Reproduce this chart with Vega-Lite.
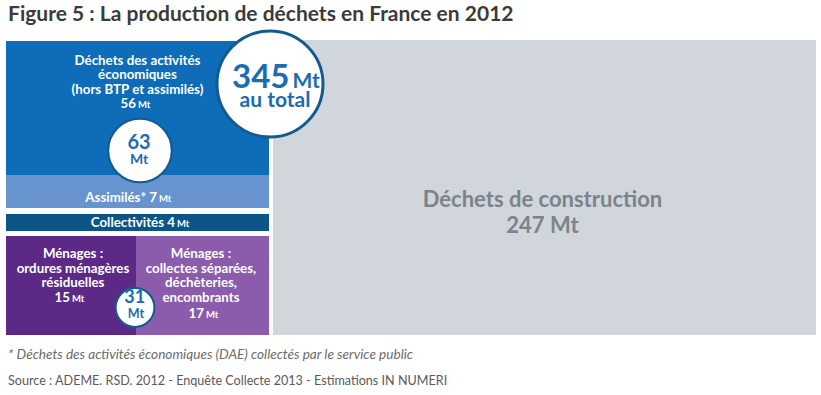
{
  "$schema": "https://vega.github.io/schema/vega-lite/v6.json",
  "width": 810,
  "height": 295,
  "autosize": {"type": "none"},
  "padding": {"left": 6, "top": 40, "right": 5, "bottom": 60},
  "background": "white",
  "config": {"view": {"stroke": null}, "text": {"font": "Lato"}},
  "datasets": {
    "boxes": [
      {"name": "Déchets des activités économiques", "mt": 56, "x0": 0, "x1": 32.47, "y0": 0.34, "y1": 45.76},
      {"name": "Assimilés", "mt": 7, "x0": 0, "x1": 32.47, "y0": 45.76, "y1": 56.95},
      {"name": "Collectivités", "mt": 4, "x0": 0, "x1": 32.47, "y0": 58.98, "y1": 64.75},
      {"name": "Ménages : ordures ménagères résiduelles", "mt": 15, "x0": 0, "x1": 16.05, "y0": 66.44, "y1": 100},
      {"name": "Ménages : collectes séparées", "mt": 17, "x0": 16.05, "x1": 32.47, "y0": 66.44, "y1": 100},
      {"name": "Déchets de construction", "mt": 247, "x0": 32.96, "x1": 100, "y0": 0, "y1": 100}
    ],
    "circles": [
      {"label": "345 Mt au total", "total": 345, "cx": 32.59, "cy": 14.92},
      {"label": "63 Mt", "total": 63, "cx": 16.54, "cy": 37.46},
      {"label": "31 Mt", "total": 31, "cx": 15.93, "cy": 90.68}
    ],
    "texts": [
      {"role": "title", "text": "Figure 5 : La production de déchets en France en 2012", "x": 0.25, "y": -6.44},
      {"role": "note", "text": "* Déchets des activités économiques (DAE) collectés par le service public", "x": 0.25, "y": 108.14},
      {"role": "source", "text": "Source : ADEME. RSD. 2012 - Enquête Collecte 2013 - Estimations IN NUMERI", "x": 0.25, "y": 116.9},
      {"role": "wname", "text": "Déchets des activités\néconomiques\n(hors BTP et assimilés)", "x": 16.23, "y": 8.47},
      {"role": "wname", "text": "Ménages :\nordures ménagères\nrésiduelles", "x": 8.27, "y": 73.9},
      {"role": "wname", "text": "Ménages :\ncollectes séparées,\ndéchèteries,\nencombrants", "x": 24.07, "y": 73.9},
      {"role": "wnum", "text": "56", "x": 16.05, "y": 23.05},
      {"role": "wnum", "text": "Assimilés* 7", "x": 18.64, "y": 54.92},
      {"role": "wnum", "text": "Collectivités 4", "x": 20.86, "y": 63.39},
      {"role": "wnum", "text": "15", "x": 7.9, "y": 88.81},
      {"role": "wnum", "text": "17", "x": 24.44, "y": 94.24},
      {"role": "gray", "text": "Déchets de construction\n247 Mt", "x": 66.23, "y": 56.51},
      {"role": "bignum", "text": "345", "x": 35.0, "y": 16.27},
      {"role": "total", "text": "au total", "x": 33.21, "y": 22.71},
      {"role": "cnumL", "text": "63", "x": 16.42, "y": 36.95},
      {"role": "cunitL", "text": "Mt", "x": 16.42, "y": 41.9},
      {"role": "cnumS", "text": "31", "x": 15.9, "y": 89.15},
      {"role": "cunitS", "text": "Mt", "x": 16.05, "y": 94.1}
    ]
  },
  "layer": [
    {
      "data": {"name": "boxes"},
      "mark": {"type": "rect", "opacity": 1},
      "encoding": {
        "x": {"field": "x0", "type": "quantitative", "scale": {"domain": [0, 100]}, "axis": null},
        "x2": {"field": "x1"},
        "y": {"field": "y0", "type": "quantitative", "scale": {"domain": [0, 100], "reverse": true}, "axis": null},
        "y2": {"field": "y1"},
        "color": {
          "field": "name", "type": "nominal", "legend": null,
          "scale": {
            "domain": ["Déchets des activités économiques", "Assimilés", "Collectivités", "Ménages : ordures ménagères résiduelles", "Ménages : collectes séparées", "Déchets de construction"],
            "range": ["#0e6cb8", "#6794cf", "#0b5587", "#5c2a86", "#8a5cab", "#d0d6dc"]
          }
        }
      }
    },
    {
      "data": {"name": "circles"},
      "mark": {"type": "point", "shape": "circle", "filled": true, "fill": "white", "stroke": "#115b8f", "opacity": 1, "fillOpacity": 1, "strokeOpacity": 1},
      "encoding": {
        "x": {"field": "cx", "type": "quantitative", "scale": {"domain": [0, 100]}, "axis": null},
        "y": {"field": "cy", "type": "quantitative", "scale": {"domain": [0, 100], "reverse": true}, "axis": null},
        "size": {"field": "total", "type": "quantitative", "legend": null, "scale": {"type": "linear", "domain": [31, 63, 345], "range": [1505, 4045, 11236]}},
        "strokeWidth": {"field": "total", "type": "quantitative", "legend": null, "scale": {"domain": [31, 345], "range": [2, 3]}}
      }
    },
    {
      "data": {"name": "texts"},
      "transform": [{"filter": "datum.role === 'title'"}],
      "mark": {"type": "text", "align": "left", "baseline": "alphabetic", "fontSize": 21, "fontWeight": "bold", "color": "#3b3b3b"},
      "encoding": {
        "x": {"field": "x", "type": "quantitative", "scale": {"domain": [0, 100]}, "axis": null},
        "y": {"field": "y", "type": "quantitative", "scale": {"domain": [0, 100], "reverse": true}, "axis": null},
        "text": {"field": "text"}
      }
    },
    {
      "data": {"name": "texts"},
      "transform": [{"filter": "datum.role === 'note'"}],
      "mark": {"type": "text", "align": "left", "baseline": "alphabetic", "fontSize": 13.6, "fontStyle": "italic", "color": "#6b6b6b"},
      "encoding": {
        "x": {"field": "x", "type": "quantitative", "scale": {"domain": [0, 100]}, "axis": null},
        "y": {"field": "y", "type": "quantitative", "scale": {"domain": [0, 100], "reverse": true}, "axis": null},
        "text": {"field": "text"}
      }
    },
    {
      "data": {"name": "texts"},
      "transform": [{"filter": "datum.role === 'source'"}],
      "mark": {"type": "text", "align": "left", "baseline": "alphabetic", "fontSize": 12.6, "color": "#5a5a5a"},
      "encoding": {
        "x": {"field": "x", "type": "quantitative", "scale": {"domain": [0, 100]}, "axis": null},
        "y": {"field": "y", "type": "quantitative", "scale": {"domain": [0, 100], "reverse": true}, "axis": null},
        "text": {"field": "text"}
      }
    },
    {
      "data": {"name": "texts"},
      "transform": [{"filter": "datum.role === 'wname'"}],
      "mark": {"type": "text", "align": "center", "baseline": "alphabetic", "fontSize": 13.3, "fontWeight": "bold", "color": "white", "lineBreak": "\n", "lineHeight": 14.5},
      "encoding": {
        "x": {"field": "x", "type": "quantitative", "scale": {"domain": [0, 100]}, "axis": null},
        "y": {"field": "y", "type": "quantitative", "scale": {"domain": [0, 100], "reverse": true}, "axis": null},
        "text": {"field": "text"}
      }
    },
    {
      "data": {"name": "texts"},
      "transform": [{"filter": "datum.role === 'wnum'"}],
      "mark": {"type": "text", "align": "right", "baseline": "alphabetic", "fontSize": 13.3, "fontWeight": "bold", "color": "white"},
      "encoding": {
        "x": {"field": "x", "type": "quantitative", "scale": {"domain": [0, 100]}, "axis": null},
        "y": {"field": "y", "type": "quantitative", "scale": {"domain": [0, 100], "reverse": true}, "axis": null},
        "text": {"field": "text"}
      }
    },
    {
      "data": {"name": "texts"},
      "transform": [{"filter": "datum.role === 'wnum'"}],
      "mark": {"type": "text", "align": "left", "baseline": "alphabetic", "dx": 2, "fontSize": 9.5, "fontWeight": "bold", "color": "white"},
      "encoding": {
        "x": {"field": "x", "type": "quantitative", "scale": {"domain": [0, 100]}, "axis": null},
        "y": {"field": "y", "type": "quantitative", "scale": {"domain": [0, 100], "reverse": true}, "axis": null},
        "text": {"value": "Mt"}
      }
    },
    {
      "data": {"name": "texts"},
      "transform": [{"filter": "datum.role === 'gray'"}],
      "mark": {"type": "text", "align": "center", "baseline": "alphabetic", "fontSize": 22, "fontWeight": "bold", "color": "#7c838a", "lineBreak": "\n", "lineHeight": 26.3},
      "encoding": {
        "x": {"field": "x", "type": "quantitative", "scale": {"domain": [0, 100]}, "axis": null},
        "y": {"field": "y", "type": "quantitative", "scale": {"domain": [0, 100], "reverse": true}, "axis": null},
        "text": {"field": "text"}
      }
    },
    {
      "data": {"name": "texts"},
      "transform": [{"filter": "datum.role === 'bignum'"}],
      "mark": {"type": "text", "align": "right", "baseline": "alphabetic", "fontSize": 33, "fontWeight": "bold", "color": "#1b6cb5"},
      "encoding": {
        "x": {"field": "x", "type": "quantitative", "scale": {"domain": [0, 100]}, "axis": null},
        "y": {"field": "y", "type": "quantitative", "scale": {"domain": [0, 100], "reverse": true}, "axis": null},
        "text": {"field": "text"}
      }
    },
    {
      "data": {"name": "texts"},
      "transform": [{"filter": "datum.role === 'bignum'"}],
      "mark": {"type": "text", "align": "left", "baseline": "alphabetic", "dx": 3, "fontSize": 21, "fontWeight": "bold", "color": "#1b6cb5"},
      "encoding": {
        "x": {"field": "x", "type": "quantitative", "scale": {"domain": [0, 100]}, "axis": null},
        "y": {"field": "y", "type": "quantitative", "scale": {"domain": [0, 100], "reverse": true}, "axis": null},
        "text": {"value": "Mt"}
      }
    },
    {
      "data": {"name": "texts"},
      "transform": [{"filter": "datum.role === 'total'"}],
      "mark": {"type": "text", "align": "center", "baseline": "alphabetic", "fontSize": 21, "fontWeight": "bold", "color": "#1b6cb5"},
      "encoding": {
        "x": {"field": "x", "type": "quantitative", "scale": {"domain": [0, 100]}, "axis": null},
        "y": {"field": "y", "type": "quantitative", "scale": {"domain": [0, 100], "reverse": true}, "axis": null},
        "text": {"field": "text"}
      }
    },
    {
      "data": {"name": "texts"},
      "transform": [{"filter": "datum.role === 'cnumL'"}],
      "mark": {"type": "text", "align": "center", "baseline": "alphabetic", "fontSize": 20, "fontWeight": "bold", "color": "#1b6cb5"},
      "encoding": {
        "x": {"field": "x", "type": "quantitative", "scale": {"domain": [0, 100]}, "axis": null},
        "y": {"field": "y", "type": "quantitative", "scale": {"domain": [0, 100], "reverse": true}, "axis": null},
        "text": {"field": "text"}
      }
    },
    {
      "data": {"name": "texts"},
      "transform": [{"filter": "datum.role === 'cunitL'"}],
      "mark": {"type": "text", "align": "center", "baseline": "alphabetic", "fontSize": 14, "fontWeight": "bold", "color": "#1b6cb5"},
      "encoding": {
        "x": {"field": "x", "type": "quantitative", "scale": {"domain": [0, 100]}, "axis": null},
        "y": {"field": "y", "type": "quantitative", "scale": {"domain": [0, 100], "reverse": true}, "axis": null},
        "text": {"field": "text"}
      }
    },
    {
      "data": {"name": "texts"},
      "transform": [{"filter": "datum.role === 'cnumS'"}],
      "mark": {"type": "text", "align": "center", "baseline": "alphabetic", "fontSize": 18, "fontWeight": "bold", "color": "#1b6cb5"},
      "encoding": {
        "x": {"field": "x", "type": "quantitative", "scale": {"domain": [0, 100]}, "axis": null},
        "y": {"field": "y", "type": "quantitative", "scale": {"domain": [0, 100], "reverse": true}, "axis": null},
        "text": {"field": "text"}
      }
    },
    {
      "data": {"name": "texts"},
      "transform": [{"filter": "datum.role === 'cunitS'"}],
      "mark": {"type": "text", "align": "center", "baseline": "alphabetic", "fontSize": 12.5, "fontWeight": "bold", "color": "#1b6cb5"},
      "encoding": {
        "x": {"field": "x", "type": "quantitative", "scale": {"domain": [0, 100]}, "axis": null},
        "y": {"field": "y", "type": "quantitative", "scale": {"domain": [0, 100], "reverse": true}, "axis": null},
        "text": {"field": "text"}
      }
    }
  ]
}
